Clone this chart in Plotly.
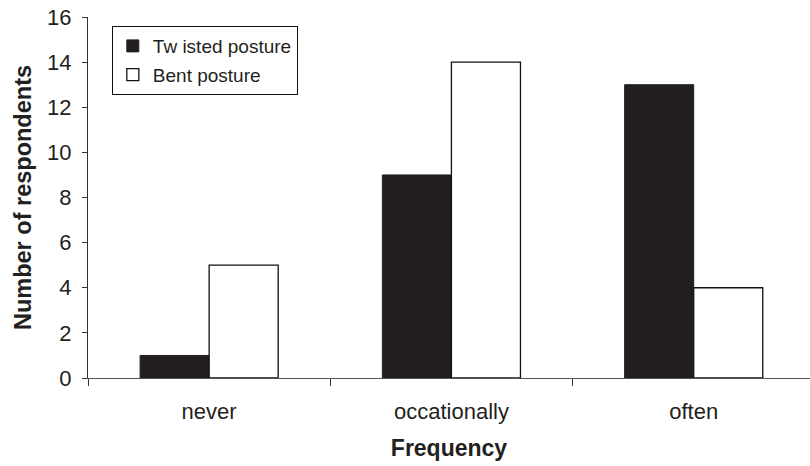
import plotly.graph_objects as go

categories = ["never", "occationally", "often"]
twisted = [1, 9, 13]
bent = [5, 14, 4]
y_ticks = [0, 2, 4, 6, 8, 10, 12, 14, 16]

FONT = "Liberation Sans, Arial, sans-serif"

fig = go.Figure()
fig.add_trace(go.Bar(x=categories, y=twisted, name="Tw isted posture", legendgroup="a",
                     marker=dict(color="#231f20", line=dict(color="#231f20", width=1))))
fig.add_trace(go.Bar(x=categories, y=bent, name="Bent posture", legendgroup="b",
                     marker=dict(color="white", line=dict(color="#111", width=1.3))))

fig.update_layout(
    width=810, height=466,
    margin=dict(l=88, r=0, t=17, b=88),
    paper_bgcolor="white", plot_bgcolor="white",
    barmode="group", bargap=0.43, bargroupgap=0,
    font=dict(family=FONT, size=22, color="#231f20"),
    showlegend=True,
    legend=dict(x=0.033, y=0.975, xanchor="left", yanchor="top",
                bordercolor="#111", borderwidth=1, bgcolor="white",
                font=dict(size=19), itemwidth=30, tracegroupgap=1,
                traceorder="grouped"),
    xaxis=dict(type="category", range=[-0.5, 2.48], tickson="boundaries",
               ticks="outside", ticklen=7, tickcolor="#333",
               showline=True, linecolor="#555", linewidth=1,
               showgrid=False, ticklabelstandoff=14,
               title=dict(text="<b>Frequency</b>", font=dict(size=23), standoff=16)),
    yaxis=dict(range=[0, 16], tickvals=y_ticks, ticks="outside", ticklen=5,
               tickcolor="#333", showline=True, linecolor="#333", linewidth=1,
               showgrid=False, zeroline=False, ticklabelstandoff=6,
               title=dict(text="<b>Number of respondents</b>", font=dict(size=23.5), standoff=8)),
)

fig.write_html("out.html")
